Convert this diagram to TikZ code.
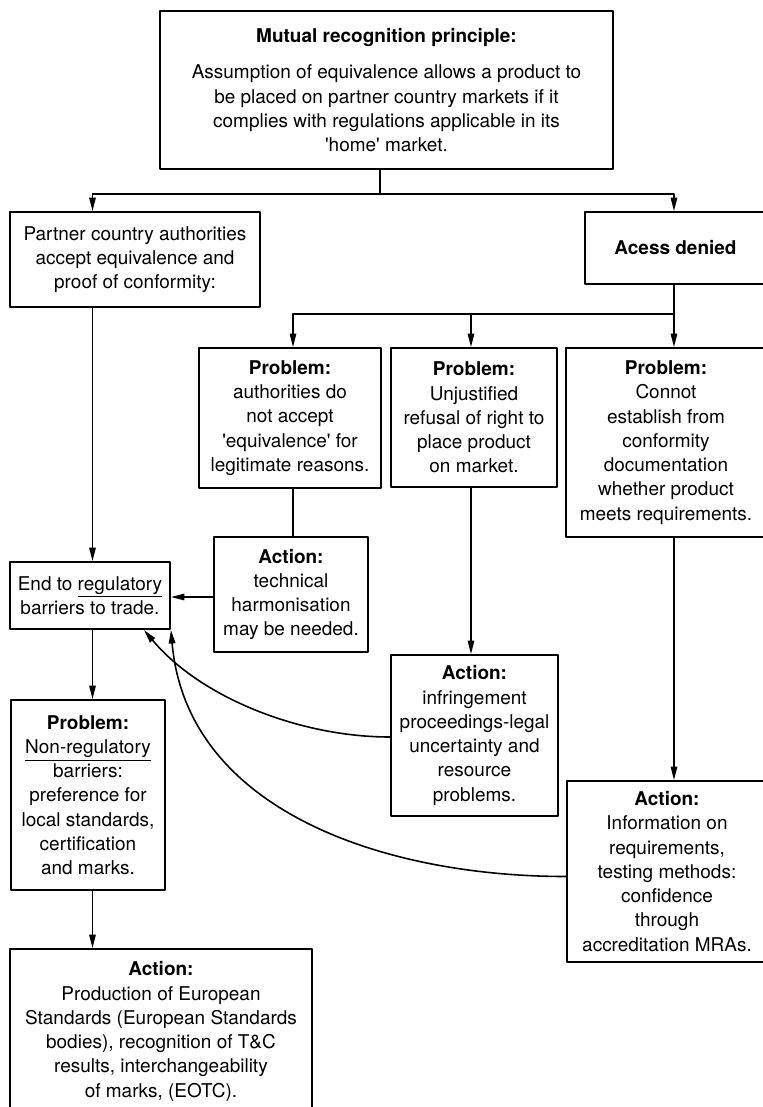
\documentclass[tikz,border=0pt]{standalone}
\usepackage{fontspec}
\setmainfont{TeX Gyre Heros}
\usetikzlibrary{arrows.meta}

\begin{document}
\begin{tikzpicture}[line cap=round,line join=round,>={Triangle[length=0.27cm,width=0.13cm]},x=0.02cm,y=0.02cm,
    box/.style={draw,line width=1.1pt,align=center,inner sep=1pt,font=\fontsize{10.8}{13.8}\selectfont},
    link/.style={line width=0.9pt}]
  \useasboundingbox (0,0) rectangle (762,-1107);
  % columns and forks
  \coordinate (lcol) at (92.5,0);
  \coordinate (mcol1) at (293,0);
  \coordinate (mcol2) at (471,0);
  \coordinate (fork1) at (380,-194);
  \coordinate (fork2) at (674,-314);
  % boxes
  \node[box,minimum width=9.06cm,minimum height=3.16cm] (top) at (386.5,-90)
    {\textbf{Mutual recognition principle:}\\[7pt]
     Assumption of equivalence allows a product to\\ be placed on partner country markets if it\\
     complies with regulations applicable in its\\ \textquotesingle home\textquotesingle{} market.};
  \node[box,minimum width=5cm,minimum height=1.9cm] (partner) at (135,-259.5)
    {Partner country authorities\\ accept equivalence and\\ proof of conformity:};
  \node[box,minimum width=3.62cm,minimum height=1.44cm] (denied) at (675.5,-248)
    {\textbf{Acess denied}};
  \node[box,minimum width=3.64cm,minimum height=2.8cm] (prob1) at (290,-418)
    {\textbf{Problem:}\\ authorities do\\ not accept\\ \textquotesingle equivalence\textquotesingle{} for\\ legitimate reasons.};
  \node[box,minimum width=3.32cm,minimum height=2.78cm] (prob2) at (474,-417.5)
    {\textbf{Problem:}\\ Unjustified\\ refusal of right to\\ place product\\ on market.};
  \node[box,minimum width=4cm,minimum height=3.78cm] (prob3) at (666,-442.5)
    {\textbf{Problem:}\\ Connot\\ establish from\\ conformity\\ documentation\\ whether product\\ meets requirements.};
  \node[box,minimum width=3.2cm,minimum height=1.34cm] (end) at (90,-595.5)
    {End to \underline{regulatory}\\ barriers to trade.};
  \node[box,minimum width=3.08cm,minimum height=2.3cm] (act1) at (291,-594.5)
    {\textbf{Action:}\\ technical\\ harmonisation\\ may be needed.};
  \node[box,minimum width=3.34cm,minimum height=3.22cm] (act2) at (474.5,-735.5)
    {\textbf{Action:}\\ infringement\\ proceedings-legal\\ uncertainty and\\ resource\\ problems.};
  \node[box,minimum width=4cm,minimum height=3.62cm] (act3) at (667,-871.5)
    {\textbf{Action:}\\ Information on\\ requirements,\\ testing methods:\\ confidence\\ through\\ accreditation MRAs.};
  \node[box,minimum width=3.08cm,minimum height=3.8cm] (prob4) at (88,-795)
    {\textbf{Problem:}\\ \underline{Non-regulatory}\\ barriers:\\ preference for\\ local standards,\\ certification\\ and marks.};
  \node[box,minimum width=6.04cm,minimum height=3.3cm] (act4) at (161,-1031.5)
    {\textbf{Action:}\\ Production of European\\ Standards (European Standards\\ bodies), recognition of T\&C\\
     results, interchangeability\\ of marks, (EOTC).};
  % connectors
  \draw[link] (top.south -| fork1) -- (fork1);
  \draw[link,->] (fork1) -| (partner.north -| lcol);
  \draw[link,->] (fork1) -| (denied.north -| fork2);
  \draw[link] (denied.south -| fork2) -- (fork2);
  \draw[link,->] (fork2) -| (prob1.north -| mcol1);
  \draw[link,->] (fork2 -| mcol2) -- (prob2.north -| mcol2);
  \draw[link,->] (fork2) -- (prob3.north -| fork2);
  \draw[link,->] (partner.south -| lcol) -- (end.north -| lcol);
  \draw[link] (prob1.south -| mcol1) -- (act1.north -| mcol1);
  \draw[link,->] ([yshift=-0.05cm]act1.west) -- ([yshift=-0.05cm]act1.west -| end.east);
  \draw[link,->] (prob2.south -| mcol2) -- (act2.north -| mcol2);
  \draw[link,->] (prob3.south -| fork2) -- (act3.north -| fork2);
  \draw[link,->] (end.south -| lcol) -- (prob4.north -| lcol);
  \draw[link,->] (prob4.south -| lcol) -- (act4.north -| lcol);
  \draw[link,->] ([yshift=-0.03cm]act2.west) to[out=180,in=-50,looseness=0.85] ([xshift=-0.54cm]end.south east);
  \draw[link,->] ([yshift=-0.1cm]act3.west) to[out=180,in=-85] (end.south east);
\end{tikzpicture}
\end{document}
